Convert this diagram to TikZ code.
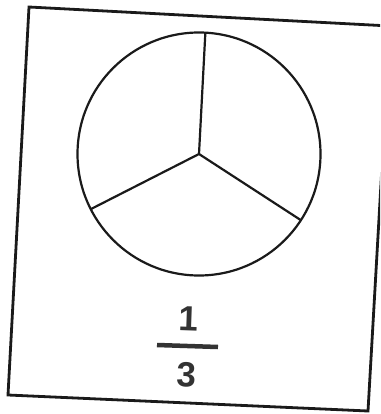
\documentclass[tikz,border=0pt]{standalone}
\usepackage{fontspec}
\setmainfont{Liberation Sans}
\usetikzlibrary{positioning}
\definecolor{inkcol}{HTML}{1A1A1A}
\definecolor{digitcol}{HTML}{333333}
\begin{document}
\begin{tikzpicture}[x=1pt,y=-1pt,
  card/.style={draw=inkcol,line width=2.8pt,line join=miter},
  pie/.style={draw=inkcol,line width=2.2pt},
  digit/.style={font=\fontsize{35}{35}\selectfont\bfseries,text=digitcol,inner sep=0pt,rotate=-2}]
  \useasboundingbox (0,0) rectangle (380,414);
  \clip (0,0) rectangle (380,414);
  % card outline, slightly turned
  \draw[card] (29,7) -- (390,26) -- (368,411) -- (8,395) -- cycle;
  % circle cut into three equal parts
  \coordinate (centre) at (199,154);
  \draw[pie] (centre) circle (121.5);
  \foreach \ang in {-87,153,33}
    \draw[pie] (centre) -- ++(\ang:121.5);
  % the fraction
  \node[digit] (num) at (189,319) {1};
  \node[digit] (den) at (187,375) {3};
  \coordinate (barL) at (157,345);
  \coordinate (barR) at (218,347);
  \draw[digitcol,line width=4.5pt] (barL) -- (barR);
\end{tikzpicture}
\end{document}
